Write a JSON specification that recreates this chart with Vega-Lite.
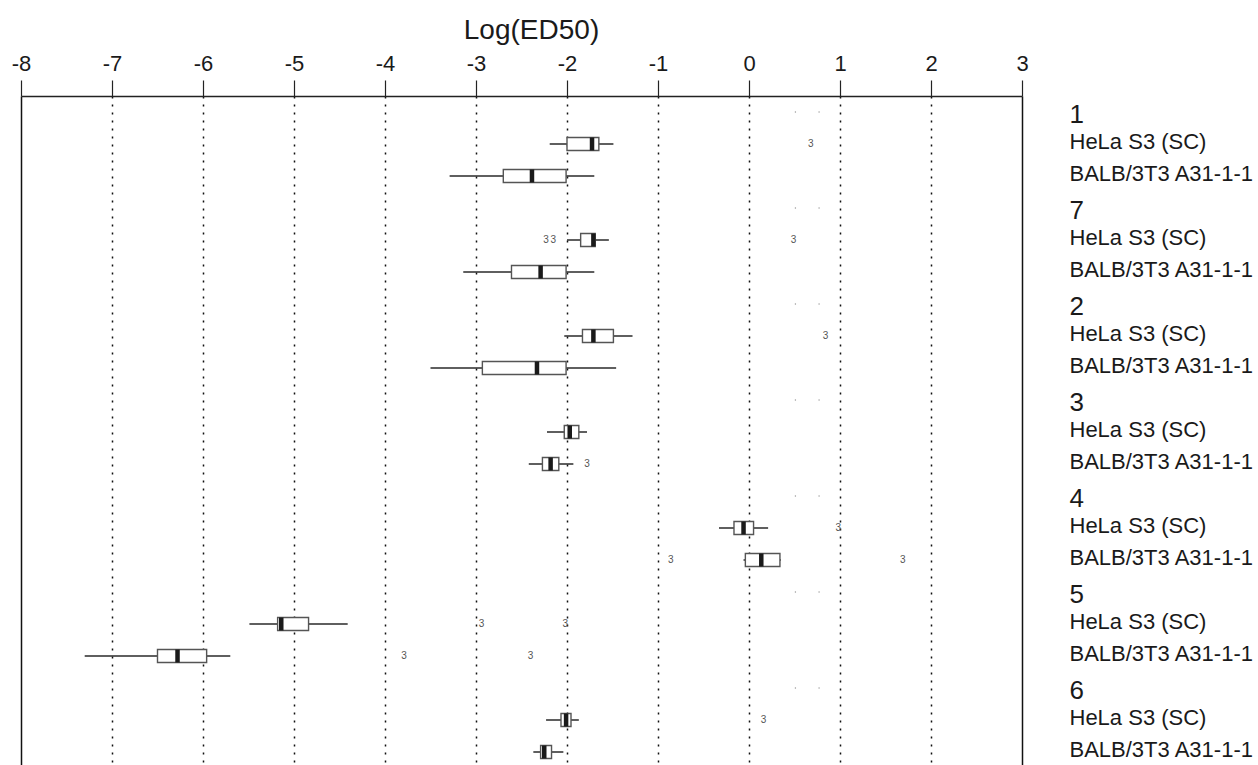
{
  "$schema": "https://vega.github.io/schema/vega-lite/v6.json",
  "autosize": {"type": "none"},
  "padding": {"left": 21, "top": 96, "right": 236, "bottom": 0},
  "width": 1001,
  "height": 669,
  "background": "white",
  "config": {"view": {"stroke": null}, "font": "Liberation Sans"},
  "datasets": {
    "boxes": [
      {"row": "1a", "lo": -2.19, "q1": -2.0, "med": -1.725, "q3": -1.65, "hi": -1.49},
      {"row": "1b", "lo": -3.29, "q1": -2.7, "med": -2.385, "q3": -2.01, "hi": -1.7},
      {"row": "7a", "lo": -2.0, "q1": -1.85, "med": -1.71, "q3": -1.69, "hi": -1.54},
      {"row": "7b", "lo": -3.14, "q1": -2.61, "med": -2.29, "q3": -2.01, "hi": -1.7},
      {"row": "2a", "lo": -2.03, "q1": -1.83, "med": -1.71, "q3": -1.49, "hi": -1.28},
      {"row": "2b", "lo": -3.5, "q1": -2.93, "med": -2.33, "q3": -2.01, "hi": -1.46},
      {"row": "3a", "lo": -2.22, "q1": -2.03, "med": -1.97, "q3": -1.87, "hi": -1.78},
      {"row": "3b", "lo": -2.42, "q1": -2.27, "med": -2.18, "q3": -2.09, "hi": -1.93},
      {"row": "4a", "lo": -0.33, "q1": -0.165, "med": -0.06, "q3": 0.05, "hi": 0.21},
      {"row": "4b", "lo": -0.06, "q1": -0.04, "med": 0.135, "q3": 0.34, "hi": 0.35},
      {"row": "5a", "lo": -5.49, "q1": -5.18, "med": -5.14, "q3": -4.84, "hi": -4.41},
      {"row": "5b", "lo": -7.3, "q1": -6.5, "med": -6.28, "q3": -5.96, "hi": -5.7},
      {"row": "6a", "lo": -2.23, "q1": -2.066, "med": -2.01, "q3": -1.956, "hi": -1.87},
      {"row": "6b", "lo": -2.37, "q1": -2.29, "med": -2.25, "q3": -2.17, "hi": -2.04}
    ],
    "outliers": [
      {"row": "1a", "v": 0.68},
      {"row": "7a", "v": -2.23},
      {"row": "7a", "v": -2.15},
      {"row": "7a", "v": 0.49},
      {"row": "2a", "v": 0.84},
      {"row": "3b", "v": -1.78},
      {"row": "4a", "v": 0.98},
      {"row": "4b", "v": -0.86},
      {"row": "4b", "v": 1.69},
      {"row": "5a", "v": -2.94},
      {"row": "5a", "v": -2.02},
      {"row": "5b", "v": -3.79},
      {"row": "5b", "v": -2.4},
      {"row": "6a", "v": 0.16}
    ],
    "dots": [
      {"row": "1", "v": 0.51}, {"row": "1", "v": 0.77},
      {"row": "7", "v": 0.51}, {"row": "7", "v": 0.77},
      {"row": "2", "v": 0.51}, {"row": "2", "v": 0.77},
      {"row": "3", "v": 0.51}, {"row": "3", "v": 0.77},
      {"row": "4", "v": 0.51}, {"row": "4", "v": 0.77},
      {"row": "5", "v": 0.51}, {"row": "5", "v": 0.77},
      {"row": "6", "v": 0.51}, {"row": "6", "v": 0.77}
    ]
  },
  "encoding": {
    "y": {
      "field": "row",
      "type": "nominal",
      "scale": {
        "domain": ["1", "1a", "1b", "7", "7a", "7b", "2", "2a", "2b", "3", "3a", "3b", "4", "4a", "4b", "5", "5a", "5b", "6", "6a", "6b"],
        "range": [0, 672],
        "paddingInner": 0,
        "paddingOuter": 0
      },
      "axis": {
        "orient": "right",
        "title": null,
        "domain": false,
        "ticks": false,
        "grid": false,
        "labelAlign": "left",
        "labelBaseline": "middle",
        "labelExpr": "length(datum.value) == 1 ? '\u00a0' + datum.value : (indexof(datum.value, 'a') > 0 ? 'HeLa S3 (SC)' : 'BALB/3T3 A31-1-1')",
        "labelFontSize": {"condition": {"test": "length(datum.value) == 1", "value": 26}, "value": 22},
        "labelOffset": {"condition": {"test": "length(datum.value) == 1", "value": 3}, "value": -2},
        "labelPadding": 47,
        "labelColor": "#1a1a1a",
        "labelLimit": 0,
        "labelOverlap": false
      }
    }
  },
  "layer": [
    {
      "data": {"name": "boxes"},
      "mark": {"type": "rule", "color": "#2a2a2a", "strokeWidth": 1.5},
      "encoding": {
        "x": {
          "field": "lo",
          "type": "quantitative",
          "scale": {"domain": [-8, 3], "nice": false, "zero": false},
          "axis": {
            "orient": "top",
            "title": "Log(ED50)",
            "values": [-8, -7, -6, -5, -4, -3, -2, -1, 0, 1, 2, 3],
            "labelExpr": "'' + datum.value",
            "labelFontSize": 22,
            "labelColor": "#1a1a1a",
            "labelPadding": 5,
            "labelFlush": false,
            "labelOverlap": false,
            "tickSize": 16,
            "tickColor": "#222",
            "tickWidth": 1.2,
            "domainColor": "#222",
            "domainWidth": 1.6,
            "grid": true,
            "gridColor": "#111",
            "gridWidth": 1.5,
            "gridDash": {"condition": {"test": "datum.value == -8 || datum.value == 3", "value": [1, 0]}, "value": [2, 6]},
            "titleFontSize": 28,
            "titleFontWeight": "normal",
            "titleColor": "#1a1a1a",
            "titleBaseline": "alphabetic",
            "titleAlign": "center",
            "titleX": 510,
            "titleY": -58
          }
        },
        "x2": {"field": "hi"}
      }
    },
    {
      "data": {"name": "boxes"},
      "mark": {"type": "bar", "size": 13, "fill": "white", "stroke": "#555", "strokeWidth": 1.4},
      "encoding": {
        "x": {"field": "q1", "type": "quantitative", "scale": {"domain": [-8, 3], "nice": false, "zero": false}},
        "x2": {"field": "q3"}
      }
    },
    {
      "data": {"name": "boxes"},
      "mark": {"type": "tick", "thickness": 4.5, "size": 13, "color": "#1a1a1a", "opacity": 1},
      "encoding": {
        "x": {"field": "med", "type": "quantitative", "scale": {"domain": [-8, 3], "nice": false, "zero": false}}
      }
    },
    {
      "data": {"name": "outliers"},
      "mark": {"type": "text", "text": "3", "fontSize": 10, "color": "#555", "align": "center", "baseline": "middle"},
      "encoding": {
        "x": {"field": "v", "type": "quantitative", "scale": {"domain": [-8, 3], "nice": false, "zero": false}}
      }
    },
    {
      "data": {"name": "dots"},
      "mark": {"type": "point", "filled": true, "size": 2, "color": "#999", "opacity": 1},
      "encoding": {
        "x": {"field": "v", "type": "quantitative", "scale": {"domain": [-8, 3], "nice": false, "zero": false}}
      }
    }
  ]
}
